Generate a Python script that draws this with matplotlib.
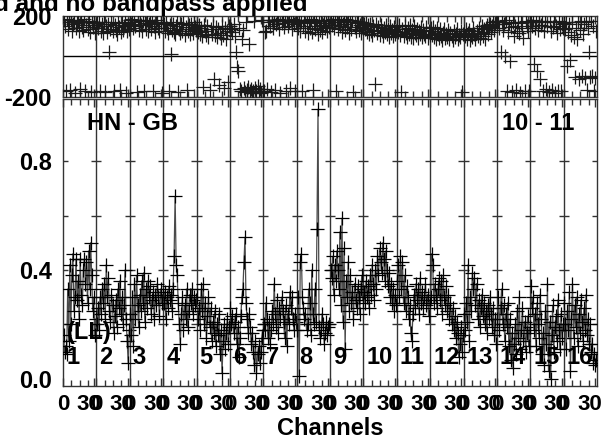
#!/usr/bin/python

"""
POSSM-like plot of amplitude and phase per IF for one baseline.
"""

import numpy as np
import matplotlib
matplotlib.use('Agg')
import matplotlib.pyplot as plt
from matplotlib.transforms import ScaledTranslation

plt.rcParams['font.family'] = ['Liberation Sans', 'DejaVu Sans']
plt.rcParams['font.weight'] = 'bold'
plt.rcParams['font.size'] = 17

# channels per IF and labels
NCHAN = 32
IF_LABELS = [str(i + 1) for i in range(16)]
XTICK_CHANNELS = [0, 30]
XTICK_LABELS = ['0', '30']
BASELINE = 'HN - GB'
ANTENNAS = '10 - 11'
STOKES = '(LL)'
TITLE = 'Calibrated and no bandpass applied'

# amplitude per IF
amplitude = [
    [0.16, 0.10, 0.12, 0.09, 0.33, 0.14, 0.42, 0.20, 0.38, 0.46, 0.25, 0.30,
     0.44, 0.29, 0.36, 0.22, 0.44, 0.31, 0.27, 0.40, 0.44, 0.35, 0.43, 0.28,
     0.47, 0.33, 0.50, 0.38, 0.25, 0.30, 0.16, 0.22],
    [0.20, 0.26, 0.18, 0.30, 0.24, 0.33, 0.28, 0.35, 0.22, 0.42, 0.30, 0.37,
     0.25, 0.21, 0.31, 0.27, 0.17, 0.23, 0.29, 0.19, 0.33, 0.26, 0.36, 0.24,
     0.30, 0.20, 0.27, 0.40, 0.22, 0.14, 0.06, 0.18],
    [0.24, 0.16, 0.30, 0.12, 0.35, 0.22, 0.38, 0.27, 0.19, 0.31, 0.25, 0.36,
     0.28, 0.39, 0.21, 0.33, 0.26, 0.36, 0.30, 0.34, 0.24, 0.29, 0.32, 0.22,
     0.31, 0.27, 0.35, 0.30, 0.23, 0.33, 0.28, 0.31],
    [0.28, 0.32, 0.22, 0.30, 0.26, 0.34, 0.29, 0.31, 0.25, 0.33, 0.45, 0.67,
     0.42, 0.38, 0.28, 0.20, 0.13, 0.24, 0.30, 0.18, 0.27, 0.22, 0.33, 0.19,
     0.25, 0.31, 0.28, 0.33, 0.24, 0.30, 0.27, 0.29],
    [0.30, 0.22, 0.26, 0.18, 0.33, 0.25, 0.35, 0.20, 0.28, 0.15, 0.23, 0.30,
     0.19, 0.26, 0.14, 0.21, 0.17, 0.25, 0.12, 0.20, 0.16, 0.24, 0.09, 0.18,
     0.02, 0.14, 0.20, 0.11, 0.17, 0.22, 0.13, 0.19],
    [0.26, 0.20, 0.23, 0.17, 0.21, 0.24, 0.13, 0.19, 0.08, 0.15, 0.23, 0.30,
     0.33, 0.43, 0.52, 0.28, 0.22, 0.17, 0.24, 0.19, 0.13, 0.17, 0.10, 0.05,
     0.14, 0.02, 0.09, 0.12, 0.06, 0.10, 0.15, 0.18],
    [0.20, 0.18, 0.28, 0.22, 0.15, 0.21, 0.13, 0.18, 0.25, 0.20, 0.35, 0.24,
     0.19, 0.29, 0.17, 0.26, 0.22, 0.30, 0.25, 0.21, 0.15, 0.27, 0.12, 0.24,
     0.20, 0.32, 0.26, 0.30, 0.22, 0.18, 0.24, 0.21],
    [0.18, 0.30, 0.01, 0.43, 0.46, 0.30, 0.26, 0.22, 0.24, 0.18, 0.20, 0.33,
     0.28, 0.16, 0.40, 0.24, 0.20, 0.33, 0.21, 0.55, 0.99, 0.19, 0.15, 0.18,
     0.24, 0.20, 0.13, 0.17, 0.21, 0.16, 0.19, 0.20],
    [0.40, 0.37, 0.45, 0.31, 0.42, 0.36, 0.47, 0.40, 0.33, 0.54, 0.27, 0.59,
     0.21, 0.48, 0.11, 0.36, 0.30, 0.43, 0.25, 0.38, 0.28, 0.32, 0.22, 0.35,
     0.29, 0.26, 0.34, 0.30, 0.24, 0.33, 0.38, 0.29],
    [0.32, 0.28, 0.36, 0.30, 0.34, 0.26, 0.38, 0.31, 0.42, 0.35, 0.29, 0.40,
     0.33, 0.45, 0.38, 0.48, 0.43, 0.39, 0.50, 0.44, 0.36, 0.47, 0.40, 0.34,
     0.39, 0.30, 0.35, 0.28, 0.33, 0.25, 0.31, 0.27],
    [0.36, 0.42, 0.30, 0.45, 0.33, 0.43, 0.28, 0.38, 0.25, 0.34, 0.30, 0.22,
     0.27, 0.17, 0.14, 0.24, 0.31, 0.26, 0.35, 0.29, 0.33, 0.24, 0.37, 0.28,
     0.32, 0.26, 0.30, 0.35, 0.27, 0.31, 0.23, 0.29],
    [0.30, 0.46, 0.42, 0.28, 0.35, 0.31, 0.26, 0.33, 0.37, 0.29, 0.36, 0.24,
     0.38, 0.30, 0.27, 0.34, 0.25, 0.31, 0.22, 0.28, 0.20, 0.26, 0.18, 0.23,
     0.15, 0.21, 0.17, 0.08, 0.13, 0.19, 0.10, 0.16],
    [0.24, 0.18, 0.28, 0.21, 0.42, 0.14, 0.30, 0.25, 0.39, 0.33, 0.37, 0.27,
     0.35, 0.22, 0.29, 0.19, 0.26, 0.31, 0.23, 0.28, 0.20, 0.25, 0.17, 0.27,
     0.22, 0.30, 0.24, 0.19, 0.26, 0.16, 0.22, 0.13],
    [0.22, 0.30, 0.18, 0.26, 0.33, 0.20, 0.27, 0.14, 0.24, 0.19, 0.28, 0.12,
     0.22, 0.07, 0.17, 0.04, 0.13, 0.20, 0.09, 0.25, 0.15, 0.30, 0.11, 0.18,
     0.26, 0.14, 0.21, 0.10, 0.17, 0.23, 0.12, 0.19],
    [0.34, 0.26, 0.30, 0.18, 0.24, 0.12, 0.28, 0.20, 0.15, 0.31, 0.22, 0.09,
     0.17, 0.05, 0.25, 0.13, 0.35, 0.03, 0.21, 0.00, 0.16, 0.27, 0.10, 0.19,
     0.23, 0.14, 0.29, 0.18, 0.11, 0.24, 0.15, 0.20],
    [0.28, 0.20, 0.11, 0.25, 0.18, 0.32, 0.03, 0.22, 0.35, 0.15, 0.27, 0.19,
     0.30, 0.12, 0.24, 0.17, 0.29, 0.21, 0.14, 0.26, 0.18, 0.31, 0.16, 0.22,
     0.13, 0.20, 0.10, 0.13, 0.06, 0.09, 0.05, 0.07],
]

# phase per IF in degrees
phase = [
    [178, 150, -172, 185, 135, 168, -165, 182, 128, 162, 175, -178, 140, 166,
     180, 125, -160, 170, 148, 132, 184, -170, 158, 138, 176, 122, -175, 165,
     145, 171, 118, 156],
    [165, 140, 172, -168, 128, 160, 118, 168, -176, 150, 122, 162, 20, 135,
     170, 125, -172, 155, 130, 112, 166, 145, -165, 120, 163, 132, 150, 168,
     -178, 128, 158, 138],
    [178, 160, 184, 140, 170, 152, -175, 180, 130, 176, 158, 125, 173, -168,
     164, 138, 182, 126, 162, 175, 135, 168, -172, 150, 122, 166, 180, 142,
     128, 165, -178, 170],
    [160, 128, 166, 140, 118, -170, 158, 10, 132, 162, 120, 110, 150, 168,
     -175, 135, 115, 160, 128, 165, 105, 148, -165, 125, 158, 112, 162, 138,
     118, 168, 145, 130],
    [150, 122, 158, 110, 140, 100, -150, 155, 128, 108, 150, 95, -165, 138,
     112, 152, -112, 105, 148, 98, 135, -140, 118, 90, 150, 104, -158, 140,
     85, 125, -125, 150],
    [150, 138, 120, 160, 100, 24, -54, -73, 140, -162, -170, 85, 130, -155,
     -176, 170, -165, -150, 60, -172, -160, -178, -168, 175, -158, -170, -145,
     -175, -162, -180, 178, -168],
    [-170, 120, 125, -160, 172, 182, 150, -175, 178, 140, 176, -165, 160, 180,
     184, 135, -178, 166, 182, 145, 175, -170, 180, 150, 168, -155, 178, 138,
     183, 160, -168, 176],
    [165, 140, 180, 128, 168, -172, 150, 182, 125, 166, 118, 175, 142, 184,
     120, -165, 168, 135, 178, 150, 112, 166, 130, 175, 120, 158, 182, 140,
     165, 125, 176, 148],
    [180, 155, 184, 140, 170, -170, 182, 135, 168, 150, 178, 120, 160, 176,
     130, 185, 148, 172, 115, 168, 138, 180, -176, 145, 125, 166, 175, 132,
     158, 118, 170, 140],
    [160, 135, 165, 120, 158, 112, 162, 128, 105, 150, 130, -137, 160, 115,
     145, 108, 158, 125, 100, 140, 120, 155, 110, 135, 98, 150, 118, 130,
     102, 145, 112, 128],
    [150, 120, 158, 108, -176, 135, 100, 152, 118, 95, 140, 112, 155, 98,
     130, 90, 150, 115, 105, 138, 92, 128, 110, 148, 96, 132, 112, 102,
     145, 90, 125, 108],
    [140, 105, 146, 95, 125, 88, 142, 110, 92, 135, 100, 82, 118, 138,
     90, 112, 98, 130, 85, 115, 102, 80, 128, 94, 110, 136, 86, 108,
     96, 125, -176, 112],
    [128, 100, 138, 88, 115, 130, 80, 108, 95, 140, 112, 84, 125, 100,
     142, 90, 118, 150, 102, 135, 88, 140, 155, 110, 148, 160, 120, 152,
     168, 130, 160, 175],
    [168, 175, 140, 24, 170, 130, 162, 0, 178, -170, 120, 165, -24, 145,
     -175, 172, 100, 150, -165, 128, 170, 115, -178, 165, 140, 90, -168, 175,
     150, 125, -172, 168],
    [172, 150, 178, -39, 140, 170, -73, 130, 175, -112, 155, 168, -170, 128,
     176, -160, 150, -175, 172, 125, -165, 145, 170, -178, 150, 115, -168,
     175, 135, -172, 160, 140],
    [165, 135, 172, -49, 120, 160, -15, 105, 170, 95, -102, 140, 85, 168,
     -110, 130, 175, -95, 112, 160, -105, 170, -165, 140, 20, -100, 175, -98,
     150, -172, -108, 125],
]

FRAME = '#333333'


def decorate(ax, nif):
    """Draw IF boundaries and channel ticks."""
    for k in range(1, nif):
        ax.axvline(k * NCHAN, color=FRAME, lw=1.0, zorder=1)
    for spine in ax.spines.values():
        spine.set_color(FRAME)
        spine.set_linewidth(1.0)
    major = [k * NCHAN + c for k in range(nif) for c in XTICK_CHANNELS]
    minor = [k * NCHAN + c for k in range(nif) for c in (8, 16, 24)]
    ax.set_xticks(major)
    ax.set_xticks(minor, minor=True)
    ax.set_xlim(0, nif * NCHAN)
    ax.tick_params(axis='x', which='both', direction='in', top=True,
                   bottom=True, color=FRAME, width=1.0)
    ax.tick_params(axis='x', which='major', length=6)
    ax.tick_params(axis='x', which='minor', length=4)
    ax.tick_params(axis='y', length=0, pad=8, labelsize=17)


def plot_possm(amplitude, phase):
    """Plot phase (top) and amplitude (bottom) for all IFs."""

    # initialize figure
    fig = plt.figure(figsize=(6.04, 4.40), dpi=100)
    left, width = 63 / 604, 534 / 604
    axp = fig.add_axes([left, 1 - 97 / 440, width, 81 / 440])
    axa = fig.add_axes([left, 1 - 386 / 440, width, 287 / 440])
    nif = len(amplitude)

    # phase panel
    decorate(axp, nif)
    axp.axhline(0, color='k', lw=1.0, zorder=1)
    for k, ph in enumerate(phase):
        x = k * NCHAN + np.arange(len(ph)) + 0.5
        axp.plot(x, ph, '+', color='#1a1a1a', ms=10, mew=0.9, zorder=3)
    axp.set_ylim(-200, 200)
    axp.set_yticks([-200, 200])
    axp.set_yticklabels(['-200', '200'])
    axp.tick_params(axis='x', labelbottom=False)

    # amplitude panel
    decorate(axa, nif)
    for b in range(nif + 1):
        axa.hlines([0.2, 0.4, 0.6, 0.8], b * NCHAN - 4.8, b * NCHAN + 4.8,
                   color=FRAME, lw=1.0, zorder=1)
    for k, amp in enumerate(amplitude):
        x = k * NCHAN + np.arange(len(amp)) + 0.5
        axa.plot(x, amp, '-', color='#4a4a4a', lw=0.9, marker='+', ms=10,
                 mew=0.9, mec='k', zorder=3)
        axa.text(k * NCHAN + 2.9, 0.1, IF_LABELS[k], ha='left',
                 va='center', fontsize=17, fontweight='bold', zorder=4,
                 transform=axa.get_xaxis_transform())
    axa.set_ylim(-0.026, 1.028)
    axa.set_yticks([0.0, 0.4, 0.8])
    axa.set_yticklabels(['0.0', '0.4', '0.8'])
    axa.set_xticklabels(XTICK_LABELS * nif)
    axa.tick_params(axis='x', which='major', pad=6, labelsize=16)
    axa.set_xlabel('Channels', fontsize=17, fontweight='bold', labelpad=1)

    # nudge the "30" labels left so their zero sits on the next IF's "0"
    shift = ScaledTranslation(-4 / 72, 0, fig.dpi_scale_trans)
    for tick in axa.xaxis.get_major_ticks():
        if tick.label1.get_text() == XTICK_LABELS[1]:
            tick.label1.set_transform(tick.label1.get_transform() + shift)

    # annotations
    axa.text(0.045, 0.916, BASELINE, transform=axa.transAxes, ha='left',
             va='center', fontsize=17, fontweight='bold')
    axa.text(0.957, 0.916, ANTENNAS, transform=axa.transAxes, ha='right',
             va='center', fontsize=17, fontweight='bold')
    axa.text(0.0075, 0.185, STOKES, transform=axa.transAxes, ha='left',
             va='center', fontsize=17, fontweight='bold', zorder=4)
    fig.text(307 / 604, 1 - 11 / 440, TITLE, ha='right', va='baseline',
             fontsize=17.5, fontweight='bold')

    # return entire figure
    return fig


def main():
    """Main program called upon execution."""
    fig = plot_possm(amplitude, phase)
    fig.savefig('out.png', dpi=100)


if __name__ == '__main__':
    main()
